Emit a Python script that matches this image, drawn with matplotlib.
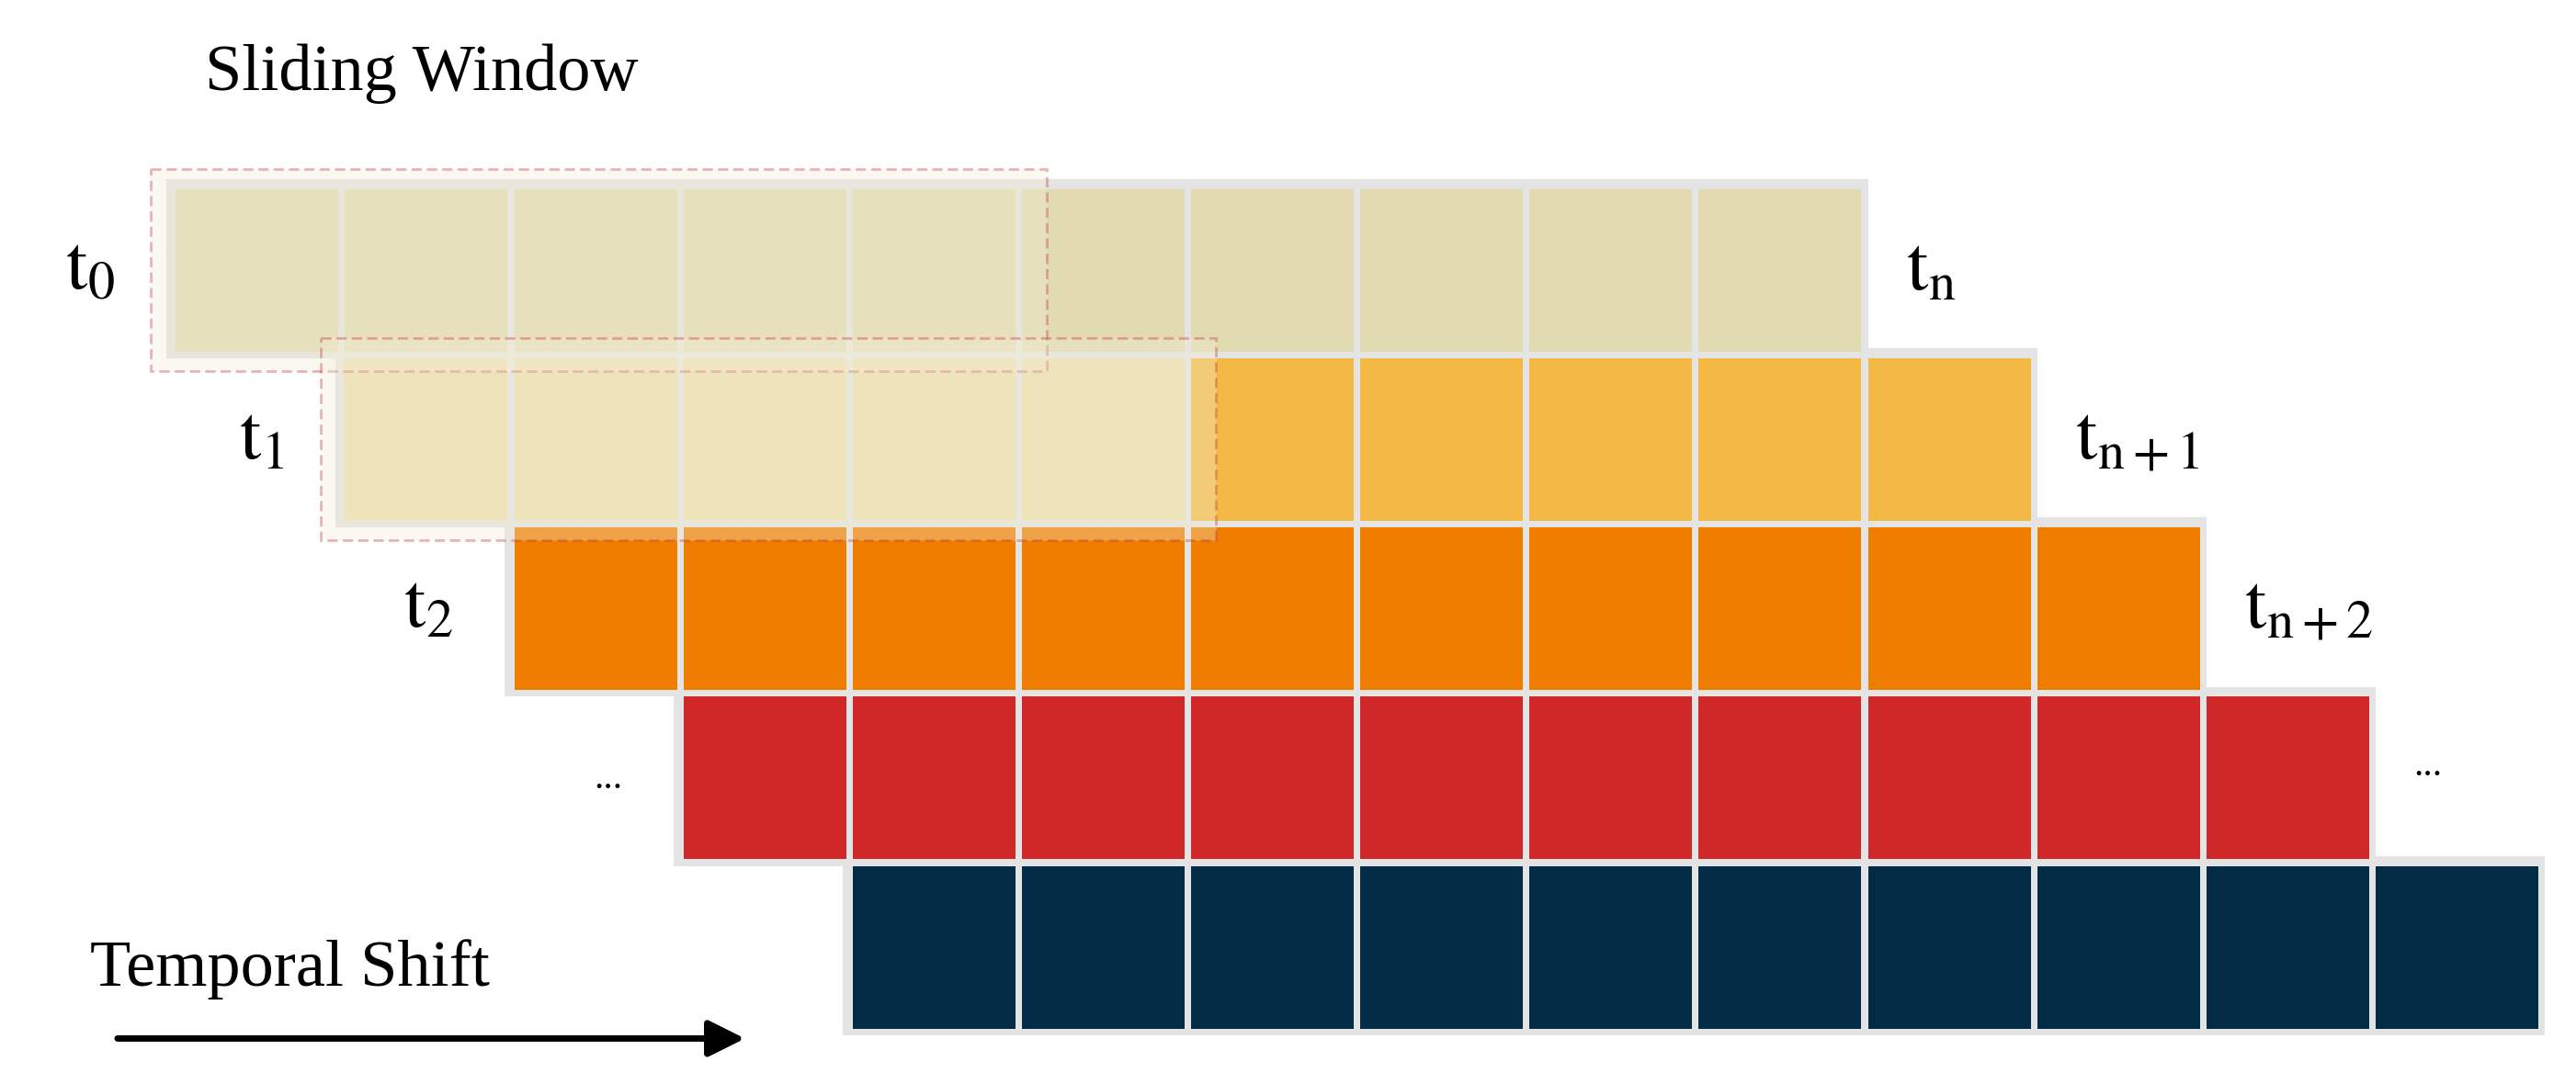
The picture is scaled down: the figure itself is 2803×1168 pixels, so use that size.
import matplotlib.pyplot as plt
from matplotlib.patches import Rectangle, FancyArrowPatch

plt.rcParams['font.family'] = ['Liberation Serif', 'DejaVu Serif']
plt.rcParams['mathtext.fontset'] = 'stix'

# data
n_cells = 10
row_colors = ['#e2dab0', '#f4b945', '#ee7d00', '#d02828', '#022c45']
window_color = ['#e2dab0', '#eddfb0']
window_len = 5
left_labels = [r'$\mathrm{t}_0$', r'$\mathrm{t}_1$', r'$\mathrm{t}_2$', '...', '']
right_labels = [r'$\mathrm{t}_\mathrm{n}$', r'$\mathrm{t}_{\mathrm{n+1}}$',
                r'$\mathrm{t}_{\mathrm{n+2}}$', '...', '']

fig = plt.figure(figsize=(28.03, 11.68), dpi=100)
ax = fig.add_axes([0, 0, 1, 1])
ax.set_xlim(0, 1568)
ax.set_ylim(653, 0)
ax.axis('off')

cw, ch = 103, 103
x0, y0 = 105, 113
for r, col in enumerate(row_colors):
    rx = x0 + r * cw
    ry = y0 + r * ch
    ax.add_patch(Rectangle((rx - 4, ry - 4), n_cells * cw + 6, ch + 6,
                           facecolor='#e4e4e4', edgecolor='none', zorder=1))
    for c in range(n_cells):
        fc = col
        if r < 2 and c < window_len:
            fc = window_color[r]
        ax.add_patch(Rectangle((rx + c * cw + 2, ry + 2), cw - 4, ch - 4,
                               facecolor=fc, edgecolor='none', zorder=2))
    fs = 60 if left_labels[r] != '...' else 30
    ax.text(rx - 35, ry + 52, left_labels[r], fontsize=fs, ha='right', va='center')
    ax.text(rx + n_cells * cw + 25, ry + 52 + (0 if r < 3 else -8), right_labels[r],
            fontsize=fs, ha='left', va='center')

# sliding windows
for r in range(2):
    rx = x0 + r * cw - 13
    ry = y0 + r * ch - 10
    ax.add_patch(Rectangle((rx, ry), window_len * cw + 30, ch + 20,
                           facecolor='#f3ecd4', alpha=0.35, edgecolor='#c0303a',
                           linestyle=(0, (4, 2)), linewidth=2, zorder=3))

ax.text(125, 45, 'Sliding Window', fontsize=52, ha='left', va='center')
ax.text(55, 590, 'Temporal Shift', fontsize=52, ha='left', va='center')
ax.add_patch(FancyArrowPatch((70, 632), (455, 632), arrowstyle='-|>',
                             mutation_scale=60, linewidth=5, color='black'))

fig.savefig('out.png', dpi=100)
